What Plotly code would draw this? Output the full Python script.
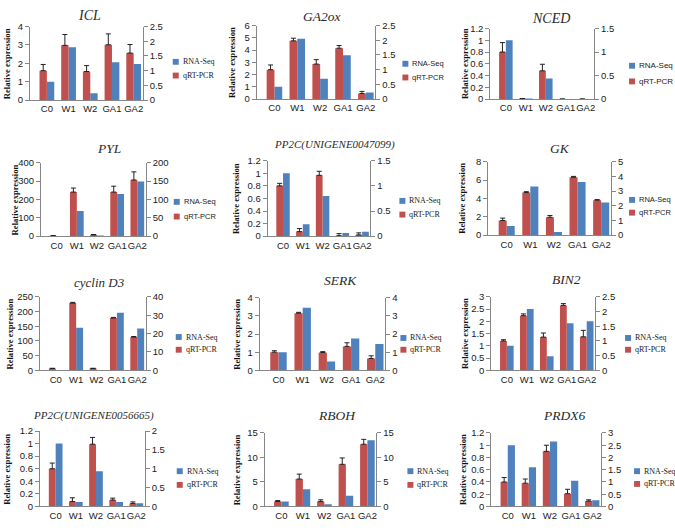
import plotly.graph_objects as go

categories = ["C0", "W1", "W2", "GA1", "GA2"]
series_names = ["RNA-Seq", "qRT-PCR"]

# RNA-Seq (left axis) / qRT-PCR (right axis) / qRT-PCR error
icl_rna = [1.0, 2.88, 0.37, 2.06, 1.96]
icl_qpcr = [1.0, 1.86, 0.97, 1.88, 1.6]
icl_err = [0.21, 0.37, 0.2, 0.37, 0.29]

ga2ox_rna = [1.0, 4.93, 1.66, 3.57, 0.54]
ga2ox_qpcr = [1.0, 1.98, 1.19, 1.73, 0.19]
ga2ox_err = [0.16, 0.09, 0.15, 0.09, 0.07]

nced_rna = [1.0, 0.01, 0.35, 0.0, 0.0]
nced_qpcr = [1.0, 0.01, 0.6, 0.0, 0.0]
nced_err = [0.2, 0.0, 0.14, 0.0, 0.0]

pyl_rna = [1, 137, 4, 229, 297]
pyl_qpcr = [1, 120, 3.5, 120, 153]
pyl_err = [0.5, 11, 1, 16, 22]

pp2c1_rna = [1.0, 0.19, 0.64, 0.05, 0.07]
pp2c1_qpcr = [1.0, 0.09, 1.21, 0.01, 0.025]
pp2c1_err = [0.05, 0.06, 0.08, 0.04, 0.04]

gk_rna = [1.0, 5.3, 0.35, 5.8, 3.55]
gk_qpcr = [1.0, 2.9, 1.22, 3.94, 2.38]
gk_err = [0.16, 0.06, 0.12, 0.06, 0.04]

cyc_rna = [1, 145, 1, 196, 142]
cyc_qpcr = [1.0, 36.6, 1.0, 28.5, 18.1]
cyc_err = [0.1, 0.4, 0.1, 0.3, 0.3]

serk_rna = [1.0, 3.45, 0.48, 1.75, 1.45]
serk_qpcr = [1.0, 3.15, 0.98, 1.32, 0.65]
serk_err = [0.08, 0.05, 0.05, 0.2, 0.15]

bin2_rna = [1.0, 2.5, 0.57, 1.92, 2.0]
bin2_qpcr = [1.0, 1.86, 1.13, 2.21, 1.14]
bin2_err = [0.04, 0.06, 0.14, 0.06, 0.22]

pp2c2_rna = [1.0, 0.07, 0.56, 0.07, 0.05]
pp2c2_qpcr = [1.0, 0.13, 1.65, 0.17, 0.08]
pp2c2_err = [0.15, 0.1, 0.18, 0.05, 0.04]

rboh_rna = [1.0, 3.5, 0.45, 2.2, 13.5]
rboh_qpcr = [1.0, 5.6, 1.0, 8.6, 12.7]
rboh_err = [0.2, 1.0, 0.35, 1.3, 1.0]

prdx6_rna = [1.0, 0.64, 1.06, 0.42, 0.1]
prdx6_qpcr = [1.0, 0.95, 2.25, 0.52, 0.22]
prdx6_err = [0.18, 0.17, 0.25, 0.18, 0.05]

gene_titles = ["ICL", "GA2ox", "NCED", "PYL", "PP2C(UNIGENE0047099)", "GK",
               "cyclin D3", "SERK", "BIN2", "PP2C(UNIGENE0056665)", "RBOH", "PRDX6"]
# axis scales: (max, step) left / right
left_scales = [(4, 1), (6, 1), (1.2, 0.2), (400, 100), (1.2, 0.2), (8, 2),
               (250, 50), (4, 1), (3, 0.5), (1.2, 0.2), (15, 5), (1.2, 0.2)]
right_scales = [(2.5, 0.5), (2.5, 0.5), (1.5, 0.5), (200, 50), (1.5, 0.5), (5, 1),
                (40, 10), (4, 1), (2.5, 0.5), (2, 0.5), (15, 5), (3, 0.5)]
rna_series = [icl_rna, ga2ox_rna, nced_rna, pyl_rna, pp2c1_rna, gk_rna,
              cyc_rna, serk_rna, bin2_rna, pp2c2_rna, rboh_rna, prdx6_rna]
qpcr_series = [icl_qpcr, ga2ox_qpcr, nced_qpcr, pyl_qpcr, pp2c1_qpcr, gk_qpcr,
               cyc_qpcr, serk_qpcr, bin2_qpcr, pp2c2_qpcr, rboh_qpcr, prdx6_qpcr]
err_series = [icl_err, ga2ox_err, nced_err, pyl_err, pp2c1_err, gk_err,
              cyc_err, serk_err, bin2_err, pp2c2_err, rboh_err, prdx6_err]

# ---- layout (pixels) ----
W, H = 675, 532
boxes = [(30, 143, 21, 96), (257, 376, 20, 95), (491, 595, 23, 95),
         (41, 146, 160, 235), (268, 371, 158, 235), (489, 612, 159, 234),
         (40, 146, 297, 372), (260, 386, 298, 372), (492, 596, 297, 372),
         (40, 145, 434, 511), (265, 377, 436, 511), (492, 602, 436, 511)]
title_pos = [(90, 10, 14), (322, 11, 13.5), (552, 13, 14),
             (109, 145, 13.5), (335, 141, 11), (561, 145, 13.5),
             (100, 282, 13), (341, 280, 13.5), (567, 279, 13.5),
             (94, 418, 11), (337, 418, 13.5), (565, 418, 13.5)]
ytitle_x = [7, 233, 465, 15, 237, 463, 10, 237, 465, 7, 237, 463]
# square-left x, row1 y, row2 y
legend_pos = [(173, 57, 71), (403, 59, 73), (630, 61, 77),
              (174, 200, 215), (400, 199, 213), (630, 198, 211),
              (176, 338, 351), (401, 339, 351), (626, 339, 351),
              (177, 475, 489), (408, 475, 489), (635, 475, 488)]
legend_fonts = [("Liberation Serif", 8), ("Liberation Sans", 7.5), ("Liberation Sans", 8),
                ("Liberation Sans", 7.5), ("Liberation Serif", 8), ("Liberation Sans", 7.5),
                ("Liberation Serif", 8), ("Liberation Serif", 8), ("Liberation Serif", 8),
                ("Liberation Serif", 8), ("Liberation Serif", 8), ("Liberation Serif", 8)]

RED = "#C0504D"
BLUE = "#4F81BD"
AXC = "#868686"
TXT = "#1a1a1a"
BW = 0.34

fig = go.Figure()
layout = dict(width=W, height=H, margin=dict(l=0, r=0, t=0, b=0),
              paper_bgcolor="white", plot_bgcolor="rgba(0,0,0,0)",
              showlegend=False, barmode="overlay", annotations=[], shapes=[])

for k in range(12):
    xi = k + 1
    yl = 2 * k + 1
    yr = 2 * k + 2
    xname = "x" if xi == 1 else f"x{xi}"
    ylname = "y" if yl == 1 else f"y{yl}"
    yrname = f"y{yr}"

    fig.add_trace(go.Bar(x=categories, y=rna_series[k], name=series_names[0],
                         marker_color=BLUE, marker_line_width=0,
                         width=BW, offset=0, xaxis=xname, yaxis=ylname,
                         hoverinfo="skip"))
    fig.add_trace(go.Bar(x=categories, y=qpcr_series[k], name=series_names[1],
                         marker_color=RED, marker_line_width=0,
                         width=BW, offset=-BW, xaxis=xname, yaxis=yrname,
                         hoverinfo="skip",
                         error_y=dict(type="data", array=err_series[k],
                                      arrayminus=[0] * 5, symmetric=False,
                                      color="#222222", thickness=1, width=2.5)))

    L, R, T, B = boxes[k]
    xdom = [L / W, R / W]
    ydom = [1 - B / H, 1 - T / H]
    tickfont = dict(family="Liberation Sans", size=9.5, color=TXT)
    layout["xaxis" if xi == 1 else f"xaxis{xi}"] = dict(
        domain=xdom, anchor=ylname, type="category", range=[-0.78, 4.42],
        showline=True, linecolor=AXC, linewidth=1, ticks="", showgrid=False,
        tickangle=0, tickfont=tickfont, fixedrange=True)
    lmax, lstep = left_scales[k]
    rmax, rstep = right_scales[k]
    layout["yaxis" if yl == 1 else f"yaxis{yl}"] = dict(
        domain=ydom, anchor=xname, range=[0, lmax], dtick=lstep, tick0=0,
        showline=True, linecolor=AXC, linewidth=1, ticks="outside", ticklen=4,
        tickcolor=AXC, showgrid=False, zeroline=False, tickfont=tickfont,
        fixedrange=True)
    layout[f"yaxis{yr}"] = dict(
        overlaying=ylname, anchor=xname, side="right", range=[0, rmax],
        dtick=rstep, tick0=0, showline=True, linecolor=AXC, linewidth=1,
        ticks="outside", ticklen=4, tickcolor=AXC, showgrid=False,
        zeroline=False, tickfont=tickfont, fixedrange=True)

    # legend (swatch + label)
    sx, y1, y2 = legend_pos[k]
    fam, fs = legend_fonts[k]
    for yy, col, nm in ((y1, BLUE, series_names[0]), (y2, RED, series_names[1])):
        layout["shapes"].append(dict(
            type="rect", xref="paper", yref="paper",
            x0=sx / W, x1=(sx + 6) / W, y0=1 - (yy + 3) / H, y1=1 - (yy - 3) / H,
            fillcolor=col, line=dict(width=0)))
        layout["annotations"].append(dict(
            text=nm, x=(sx + 8) / W, y=1 - yy / H, xref="paper", yref="paper",
            xanchor="left", yanchor="middle", showarrow=False,
            font=dict(family=fam, size=fs, color=TXT)))

    tx, ty, ts = title_pos[k]
    layout["annotations"].append(dict(
        text=f"<i>{gene_titles[k]}</i>", x=tx / W, y=1 - ty / H,
        xref="paper", yref="paper", xanchor="center", yanchor="middle",
        showarrow=False,
        font=dict(family="Liberation Serif", size=ts, color="#2a2a2a",
                  weight="normal")))
    layout["annotations"].append(dict(
        text="<b>Relative expression</b>", x=ytitle_x[k] / W,
        y=1 - ((T + B) / 2) / H, xref="paper", yref="paper",
        xanchor="center", yanchor="middle", showarrow=False, textangle=-90,
        font=dict(family="Liberation Serif", size=8.6, color="#111111")))

fig.update_layout(**layout)
fig.write_html("out.html",
               config={"displayModeBar": False, "staticPlot": True},
               post_script="document.body.style.margin='0';"
                           "document.body.style.overflow='hidden';")
